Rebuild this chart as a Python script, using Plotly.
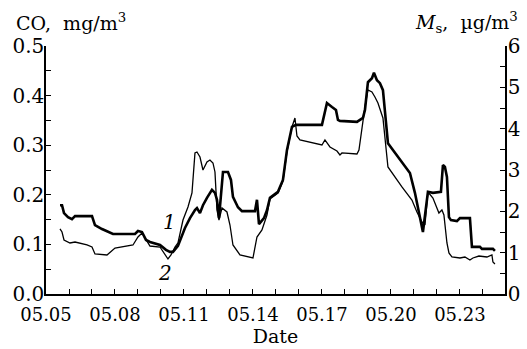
import plotly.graph_objects as go

# Day of May (fractional) and values
co_day = [5.609, 5.696, 5.783, 5.957, 6.130, 6.261, 7.000, 7.130, 7.435, 7.913, 8.870, 9.000,
          9.174, 9.348, 9.522, 9.957, 10.217, 10.391, 10.522, 10.739, 11.043, 11.261, 11.478,
          11.565, 11.696, 11.826, 12.000, 12.217, 12.348, 12.435, 12.522, 12.609, 12.696,
          12.913, 13.043, 13.130, 13.348, 13.522, 14.087, 14.174, 14.261, 14.478, 14.609,
          14.739, 15.087, 15.304, 15.478, 15.696, 15.870, 17.000, 17.217, 17.435, 17.609,
          17.696, 17.783, 18.522, 18.783, 18.870, 19.000, 19.174, 19.261, 19.391, 19.522,
          19.652, 19.870, 20.826, 21.043, 21.391, 21.609, 21.826, 22.043, 22.174, 22.261,
          22.348, 22.435, 22.522, 22.609, 22.870, 23.000, 23.435, 23.522, 23.870, 23.957,
          24.435, 24.522]
co_val = [0.179, 0.179, 0.163, 0.155, 0.151, 0.157, 0.157, 0.139, 0.131, 0.121, 0.121, 0.127,
          0.125, 0.109, 0.105, 0.099, 0.089, 0.085, 0.085, 0.097, 0.133, 0.153, 0.169,
          0.173, 0.163, 0.179, 0.194, 0.210, 0.204, 0.190, 0.153, 0.210, 0.246,
          0.246, 0.230, 0.196, 0.175, 0.167, 0.167, 0.190, 0.141, 0.153, 0.169,
          0.194, 0.206, 0.230, 0.290, 0.337, 0.341, 0.341, 0.385, 0.377, 0.371,
          0.351, 0.349, 0.347, 0.355, 0.371, 0.427, 0.435, 0.446, 0.431, 0.425,
          0.411, 0.304, 0.244, 0.204, 0.125, 0.206, 0.204, 0.206, 0.206, 0.260,
          0.256, 0.236, 0.155, 0.149, 0.147, 0.153, 0.153, 0.095, 0.095, 0.091,
          0.091, 0.087]

ms_day = [5.609, 5.696, 5.783, 6.043, 6.261, 6.783, 7.000, 7.130, 7.652, 7.783, 8.000, 8.783,
          9.000, 9.174, 9.348, 9.522, 9.957, 10.174, 10.304, 10.435, 10.609, 10.739, 10.957,
          11.174, 11.348, 11.478, 11.565, 11.696, 11.826, 12.000, 12.130, 12.261, 12.348,
          12.435, 12.522, 12.652, 12.870, 13.000, 13.130, 13.435, 14.000, 14.174, 14.391,
          14.609, 14.739, 15.087, 15.304, 15.478, 15.696, 15.826, 15.913, 16.043, 17.000,
          17.130, 17.348, 17.652, 17.783, 17.870, 18.522, 18.609, 18.739, 18.870, 19.000,
          19.174, 19.304, 19.435, 19.652, 19.870, 20.478, 20.913, 21.130, 21.348, 21.478,
          21.609, 21.826, 22.000, 22.087, 22.217, 22.304, 22.435, 22.522, 22.652, 23.000,
          23.217, 23.435, 23.565, 23.826, 24.174, 24.391, 24.435, 24.522]
ms_val = [1.573, 1.500, 1.307, 1.234, 1.258, 1.186, 1.137, 0.968, 0.944, 1.016, 1.113, 1.186,
          1.379, 1.476, 1.307, 1.161, 1.137, 0.944, 0.847, 0.944, 1.137, 1.234, 1.790,
          2.105, 2.444, 3.412, 3.436, 3.315, 3.000, 3.194, 3.242, 3.170, 2.952,
          2.032, 1.790, 2.081, 1.984, 1.669, 1.186, 0.944, 0.871, 1.379, 1.549,
          1.911, 2.299, 2.444, 2.734, 3.436, 4.041, 4.258, 3.823, 3.726, 3.605,
          3.726, 3.557, 3.460, 3.363, 3.412, 3.387, 3.484, 4.041, 4.525, 4.936,
          4.888, 4.767, 4.621, 4.258, 3.073, 2.589, 2.274, 1.984, 1.742, 1.669,
          2.468, 2.323, 2.105, 1.960, 2.032, 1.911, 1.234, 0.992, 0.895, 0.871,
          0.895, 0.823, 0.871, 0.919, 0.895, 0.944, 0.774, 0.726]

x_tick_vals = [5, 8, 11, 14, 17, 20, 23]
x_tick_text = ["05.05", "05.08", "05.11", "05.14", "05.17", "05.20", "05.23"]

FONT = "DejaVu Serif"

fig = go.Figure()
fig.add_trace(go.Scatter(x=co_day, y=co_val, mode="lines",
                         line=dict(color="black", width=2.6), yaxis="y", showlegend=False))
fig.add_trace(go.Scatter(x=ms_day, y=ms_val, mode="lines",
                         line=dict(color="black", width=1.3), yaxis="y2", showlegend=False))

tickfont = dict(family=FONT, size=20, color="black")
xtickfont = dict(family=FONT, size=18, color="black")
fig.update_layout(
    width=527, height=349,
    margin=dict(l=46, r=22, t=46, b=55),
    plot_bgcolor="white", paper_bgcolor="white",
    xaxis=dict(range=[5, 24.96], tickmode="array", tickvals=x_tick_vals, ticktext=x_tick_text,
               ticks="inside", ticklen=5, tickcolor="black", showline=True, linecolor="black",
               linewidth=1.5, showgrid=False, zeroline=False, tickfont=xtickfont,
               automargin=False, ticklabelstandoff=4,
               minor=dict(dtick=1, tick0=5, ticks="inside", ticklen=5, tickcolor="black",
                          showgrid=False),
               title=dict(text="Date", font=dict(family=FONT, size=19, color="black"),
                          standoff=0)),
    yaxis=dict(range=[0, 0.5], dtick=0.1, tickformat=".1f", ticks="inside", ticklen=5,
               tickcolor="black", showline=True, linecolor="black", linewidth=1.5,
               showgrid=False, zeroline=False, tickfont=tickfont,
               automargin=False, ticklabelstandoff=-4,
               minor=dict(dtick=0.05, ticks="inside", ticklen=5, tickcolor="black",
                          showgrid=False)),
    yaxis2=dict(range=[0, 6], dtick=1, overlaying="y", side="right", anchor="x",
                ticks="inside", ticklen=5, tickcolor="black", showline=True,
                linecolor="black", linewidth=1.5, showgrid=False, zeroline=False,
                tickfont=tickfont, automargin=False, ticklabelstandoff=-3,
                minor=dict(dtick=0.5, ticks="inside", ticklen=5, tickcolor="black",
                           showgrid=False)),
    annotations=[
        dict(text="CO,  mg/m<sup>3</sup>", xref="paper", yref="paper", x=-0.07, y=1.0,
             yshift=10, xanchor="left", yanchor="bottom", showarrow=False,
             font=dict(family=FONT, size=19, color="black")),
        dict(text="<i>M</i><sub>s</sub>,  µg/m<sup>3</sup>", xref="paper", yref="paper",
             x=1.0327, y=1.0, yshift=8, xanchor="right", yanchor="bottom", showarrow=False,
             font=dict(family=FONT, size=19, color="black")),
        dict(text="<i>1</i>", x=10.39, y=0.145, xref="x", yref="y", showarrow=False,
             font=dict(family=FONT, size=20, color="black")),
        dict(text="<i>2</i>", x=10.17, y=0.043, xref="x", yref="y", showarrow=False,
             font=dict(family=FONT, size=20, color="black")),
    ],
)

fig.write_html("out.html", config={"displayModeBar": False},
               post_script="document.body.style.margin='0';")
